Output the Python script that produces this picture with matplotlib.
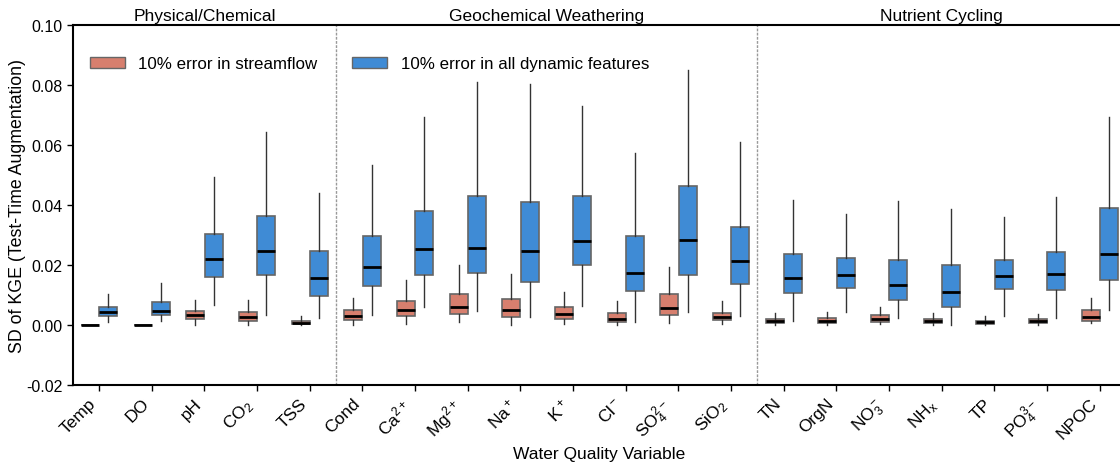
import matplotlib.pyplot as plt
from matplotlib.patches import Patch
from matplotlib.transforms import blended_transform_factory

plt.rcParams['font.family'] = ['Liberation Sans', 'DejaVu Sans']
plt.rcParams['mathtext.default'] = 'regular'

variables = ['Temp', 'DO', 'pH', 'CO$_2$', 'TSS',
             'Cond', 'Ca$^{2+}$', 'Mg$^{2+}$', 'Na$^+$', 'K$^+$', 'Cl$^-$',
             'SO$_4^{2-}$', 'SiO$_2$',
             'TN', 'OrgN', 'NO$_3^-$', 'NH$_x$', 'TP', 'PO$_4^{3-}$', 'NPOC']

# box summaries per variable: (whisker low, q1, median, q3, whisker high)
streamflow = [
    (0.0, 0.0, 0.0, 0.0, 0.0),
    (0.0, 0.0, 0.0, 0.0, 0.0),
    (0.0, 0.0021, 0.0033, 0.0048, 0.0082),
    (0.0001, 0.0013, 0.0026, 0.0042, 0.0084),
    (0.0, 0.0002, 0.0008, 0.0014, 0.0031),
    (0.0001, 0.0016, 0.0029, 0.0049, 0.0091),
    (0.0004, 0.0031, 0.0051, 0.0079, 0.0149),
    (0.0009, 0.0036, 0.0061, 0.0103, 0.0199),
    (0.0, 0.0028, 0.0050, 0.0087, 0.0170),
    (0.0003, 0.0021, 0.0038, 0.0059, 0.0111),
    (0.0, 0.0009, 0.0021, 0.0040, 0.0080),
    (0.0006, 0.0032, 0.0057, 0.0103, 0.0192),
    (0.0002, 0.0016, 0.0026, 0.0041, 0.0080),
    (0.0001, 0.0006, 0.0013, 0.0021, 0.0040),
    (0.0, 0.0007, 0.0013, 0.0022, 0.0042),
    (0.0002, 0.0011, 0.0021, 0.0032, 0.0059),
    (0.0, 0.0006, 0.0013, 0.0021, 0.0040),
    (0.0, 0.0004, 0.0010, 0.0014, 0.0029),
    (0.0, 0.0007, 0.0014, 0.0020, 0.0038),
    (0.0006, 0.0014, 0.0028, 0.0049, 0.0089),
]
all_dynamic = [
    (0.0009, 0.0030, 0.0042, 0.0061, 0.0102),
    (0.0012, 0.0033, 0.0048, 0.0077, 0.0139),
    (0.0068, 0.0161, 0.0220, 0.0303, 0.0494),
    (0.0032, 0.0168, 0.0248, 0.0362, 0.0642),
    (0.0022, 0.0098, 0.0157, 0.0246, 0.0439),
    (0.0032, 0.0129, 0.0194, 0.0297, 0.0533),
    (0.0059, 0.0166, 0.0253, 0.0379, 0.0692),
    (0.0048, 0.0174, 0.0258, 0.0429, 0.0809),
    (0.0026, 0.0142, 0.0247, 0.0409, 0.0804),
    (0.0063, 0.0200, 0.0280, 0.0431, 0.0731),
    (0.0011, 0.0112, 0.0174, 0.0298, 0.0574),
    (0.0044, 0.0166, 0.0282, 0.0464, 0.0850),
    (0.0031, 0.0136, 0.0214, 0.0326, 0.0609),
    (0.0013, 0.0108, 0.0157, 0.0236, 0.0417),
    (0.0042, 0.0123, 0.0166, 0.0223, 0.0369),
    (0.0023, 0.0082, 0.0134, 0.0216, 0.0412),
    (0.0, 0.0059, 0.0110, 0.0199, 0.0386),
    (0.0031, 0.0120, 0.0163, 0.0218, 0.0359),
    (0.0022, 0.0118, 0.0169, 0.0243, 0.0428),
    (0.0049, 0.0149, 0.0237, 0.0389, 0.0692),
]

groups = ['Physical/Chemical', 'Geochemical Weathering', 'Nutrient Cycling']
group_edges = [-0.5, 4.5, 12.5, 19.5]

red = '#d77f6e'
blue = '#3f8bd5'
fs = 12.5


def to_stats(rows):
    return [dict(whislo=lo, q1=q1, med=med, q3=q3, whishi=hi, fliers=[])
            for lo, q1, med, q3, hi in rows]


fig = plt.figure(figsize=(11.2, 4.64), dpi=100)
ax = fig.add_axes([0.065, 0.168, 0.9405, 0.776])

width = 0.34
for rows, offset, color in [(streamflow, -0.175, red), (all_dynamic, 0.175, blue)]:
    ax.bxp(to_stats(rows), positions=[i + offset for i in range(len(rows))],
           widths=width, patch_artist=True, showcaps=False, showfliers=False,
           boxprops=dict(facecolor=color, edgecolor='#666666', linewidth=1.2),
           whiskerprops=dict(color='#333333', linewidth=1.0),
           medianprops=dict(color='black', linewidth=2))

# group dividers and headers
for x in group_edges[1:-1]:
    ax.axvline(x, color='#999999', linewidth=1, linestyle=(0, (2, 1)))
trans = blended_transform_factory(ax.transData, ax.transAxes)
for name, a, b in zip(groups, group_edges[:-1], group_edges[1:]):
    ax.text((a + b) / 2, 1.006, name, transform=trans, ha='center',
            va='bottom', fontsize=fs)

ax.set_xlim(-0.5, 19.5)
ax.set_ylim(-0.02, 0.10)
ax.set_xticks(range(len(variables)))
ax.set_xticklabels(variables, rotation=45, ha='right', fontsize=fs)
ax.set_yticks([-0.02, 0.0, 0.02, 0.04, 0.06, 0.08, 0.10])
ax.set_yticklabels(['-0.02', '0.00', '0.02', '0.04', '0.06', '0.08', '0.10'])
ax.tick_params(axis='both', length=4, width=1)
ax.tick_params(axis='y', labelsize=11.5)
for side in ['left', 'bottom', 'top']:
    ax.spines[side].set_linewidth(1.5)

ax.set_xlabel('Water Quality Variable', fontsize=fs, labelpad=2)
ax.set_ylabel('SD of KGE (Test-Time Augmentation)', fontsize=12.8)
ax.yaxis.set_label_coords(-0.044, 0.5)

handles = [Patch(facecolor=red, edgecolor='#666666', label='10% error in streamflow'),
           Patch(facecolor=blue, edgecolor='#666666', label='10% error in all dynamic features')]
ax.legend(handles=handles, ncol=2, frameon=False, fontsize=12.2,
          loc='upper left', bbox_to_anchor=(0.002, 0.955),
          handlelength=2.05, handleheight=0.7, handletextpad=0.8,
          columnspacing=2.05)

fig.savefig('out.png', dpi=100)
